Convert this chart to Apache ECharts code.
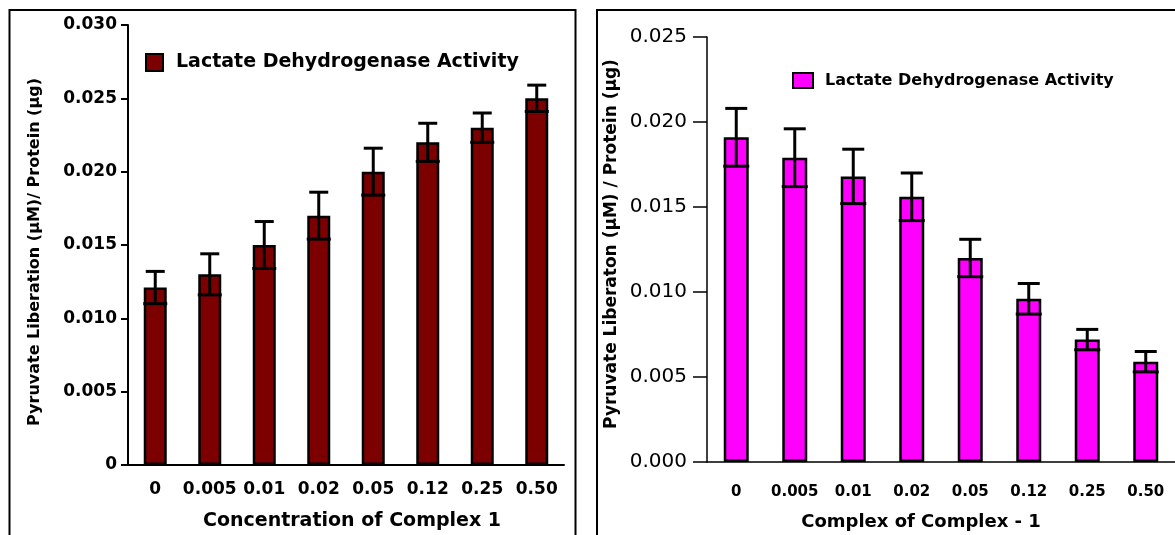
<!DOCTYPE html>
<html>
<head>
<meta charset="utf-8">
<script src="https://cdn.jsdelivr.net/npm/echarts@6/dist/echarts.min.js"></script>
<style>
html,body{margin:0;padding:0;background:#fff;}
#chart{width:1175px;height:535px;}
</style>
</head>
<body>
<div id="chart"></div>
<script>
const categories = ['0', '0.005', '0.01', '0.02', '0.05', '0.12', '0.25', '0.50'];
const ldhLeft = [0.0121, 0.0130, 0.0150, 0.0170, 0.0200, 0.0220, 0.0230, 0.0250];
const errLeft = [0.0011, 0.0014, 0.0016, 0.0016, 0.0016, 0.0013, 0.0010, 0.0009];
const ldhRight = [0.0191, 0.0179, 0.0168, 0.0156, 0.0120, 0.0096, 0.0072, 0.0059];
const errRight = [0.0017, 0.0017, 0.0016, 0.0014, 0.0011, 0.0009, 0.0006, 0.0006];
const leftTicks = { min: 0, max: 0.030, interval: 0.005 };
const rightTicks = { min: 0, max: 0.025, interval: 0.005 };
const legendText = 'Lactate Dehydrogenase Activity';

const FONT = 'DejaVu Sans';

function errRender(capW, lowW, lw) {
  return function (params, api) {
    const i = api.value(0), v = api.value(1), e = api.value(2);
    const t = api.coord([i, v + e]);
    const b = api.coord([i, v - e]);
    const style = { stroke: '#000', lineWidth: lw };
    return {
      type: 'group',
      children: [
        { type: 'line', shape: { x1: t[0], y1: t[1], x2: b[0], y2: b[1] }, style: style },
        { type: 'line', shape: { x1: t[0] - capW / 2, y1: t[1], x2: t[0] + capW / 2, y2: t[1] }, style: style },
        { type: 'line', shape: { x1: b[0] - lowW / 2, y1: b[1], x2: b[0] + lowW / 2, y2: b[1] }, style: style }
      ]
    };
  };
}

const chart = echarts.init(document.getElementById('chart'), null, { renderer: 'canvas' });

const option = {
  backgroundColor: '#fff',
  animation: false,
  grid: [
    { left: 128, top: 25, width: 436, height: 440 },
    { left: 707, top: 37, width: 472, height: 425 }
  ],
  legend: [
    {
      left: 140, top: 48, itemWidth: 17, itemHeight: 17, icon: 'rect',
      selectedMode: false, data: ['L'],
      formatter: function () { return legendText; },
      textStyle: { fontFamily: FONT, fontWeight: 'bold', fontSize: 19, color: '#000', padding: [0, 0, 0, 8] }
    },
    {
      left: 787, top: 67, itemWidth: 20, itemHeight: 15, icon: 'rect',
      selectedMode: false, data: ['R'],
      formatter: function () { return legendText; },
      textStyle: { fontFamily: FONT, fontWeight: 'bold', fontSize: 16, color: '#000', padding: [0, 0, 0, 7] }
    }
  ],
  xAxis: [
    {
      type: 'category', gridIndex: 0, data: categories,
      axisLine: { lineStyle: { color: '#000', width: 2 } },
      axisTick: { length: 7, lineStyle: { color: '#000', width: 2 } },
      axisLabel: { interval: 0, hideOverlap: false, margin: 16, color: '#000', fontFamily: FONT, fontWeight: 'bold', fontSize: 17 }
    },
    {
      type: 'category', gridIndex: 1, data: categories,
      axisLine: { lineStyle: { color: '#000', width: 1.5 } },
      axisTick: { length: 11, lineStyle: { color: '#000', width: 1.5 } },
      axisLabel: { interval: 0, hideOverlap: false, margin: 23, color: '#000', fontFamily: FONT, fontWeight: 'bold', fontSize: 15 }
    }
  ],
  yAxis: [
    {
      type: 'value', gridIndex: 0, min: leftTicks.min, max: leftTicks.max, interval: leftTicks.interval,
      splitLine: { show: false },
      axisLine: { show: true, lineStyle: { color: '#000', width: 2 } },
      axisTick: { show: true, length: 7, lineStyle: { color: '#000', width: 2 } },
      axisLabel: {
        margin: 11, color: '#000', fontFamily: FONT, fontWeight: 'bold', fontSize: 17,
        formatter: function (v) { return v === 0 ? '0' : v.toFixed(3); }
      }
    },
    {
      type: 'value', gridIndex: 1, min: rightTicks.min, max: rightTicks.max, interval: rightTicks.interval,
      splitLine: { show: false },
      axisLine: { show: true, lineStyle: { color: '#000', width: 1.5 } },
      axisTick: { show: true, length: 14, lineStyle: { color: '#000', width: 1.5 } },
      axisLabel: {
        margin: 20, color: '#000', fontFamily: FONT, fontSize: 20,
        formatter: function (v) { return v.toFixed(3); }
      }
    }
  ],
  series: [
    {
      name: 'L', type: 'bar', xAxisIndex: 0, yAxisIndex: 0, data: ldhLeft, barWidth: 23,
      itemStyle: { color: '#7d0000', borderColor: '#000', borderWidth: 2.5 }
    },
    {
      name: 'Lerr', type: 'custom', xAxisIndex: 0, yAxisIndex: 0, z: 5,
      encode: { x: 0, y: 1 },
      renderItem: errRender(19, 24, 3),
      data: categories.map(function (c, i) { return [i, ldhLeft[i], errLeft[i]]; })
    },
    {
      name: 'R', type: 'bar', xAxisIndex: 1, yAxisIndex: 1, data: ldhRight, barWidth: 25,
      itemStyle: { color: '#ff00ff', borderColor: '#000', borderWidth: 2.5 }
    },
    {
      name: 'Rerr', type: 'custom', xAxisIndex: 1, yAxisIndex: 1, z: 5,
      encode: { x: 0, y: 1 },
      renderItem: errRender(22, 26, 3),
      data: categories.map(function (c, i) { return [i, ldhRight[i], errRight[i]]; })
    }
  ],
  graphic: [
    { type: 'rect', shape: { x: 9.5, y: 10, width: 566, height: 560 }, style: { fill: 'none', stroke: '#000', lineWidth: 2 }, z: 0 },
    { type: 'rect', shape: { x: 597, y: 10, width: 620, height: 560 }, style: { fill: 'none', stroke: '#000', lineWidth: 2 }, z: 0 },
    {
      type: 'text', x: 35, y: 252, rotation: Math.PI / 2,
      style: { text: 'Pyruvate Liberation (µM)/ Protein (µg)', fill: '#000', font: 'bold 16px "DejaVu Sans"', textAlign: 'center', textVerticalAlign: 'middle' }
    },
    {
      type: 'text', x: 612, y: 244, rotation: Math.PI / 2,
      style: { text: 'Pyruvate Liberaton (µM) / Protein (µg)', fill: '#000', font: 'bold 17px "DejaVu Sans"', textAlign: 'center', textVerticalAlign: 'middle' }
    },
    {
      type: 'text', x: 352, y: 521,
      style: { text: 'Concentration of Complex 1', fill: '#000', font: 'bold 19px "DejaVu Sans"', textAlign: 'center', textVerticalAlign: 'middle' }
    },
    {
      type: 'text', x: 921, y: 522,
      style: { text: 'Complex of Complex - 1', fill: '#000', font: 'bold 18px "DejaVu Sans"', textAlign: 'center', textVerticalAlign: 'middle' }
    }
  ]
};

chart.setOption(option);
</script>
</body>
</html>
